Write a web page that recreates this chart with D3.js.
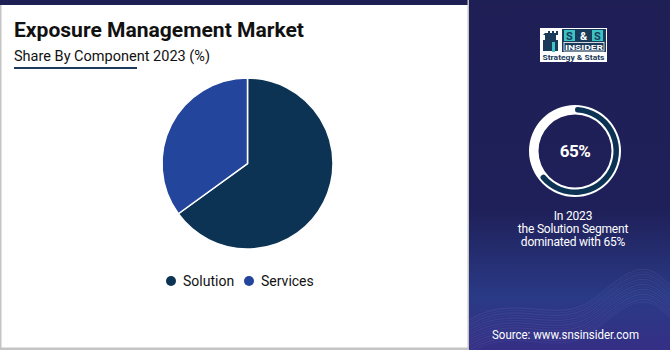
<!DOCTYPE html>
<html>
<head>
<meta charset="utf-8">
<script src="https://cdn.jsdelivr.net/npm/d3@7"></script>
<style>
html,body{margin:0;padding:0;background:#fff;}
svg{display:block;font-family:Roboto,"Noto Sans",sans-serif;}
</style>
</head>
<body>
<svg id="chart" width="670" height="350"></svg>
<script>
const categories = ["Solution", "Services"];
const shares = [65, 35];
const colors = ["#0c3353", "#23459b"];
const title = "Exposure Management Market";
const subtitle = "Share By Component 2023 (%)";
const highlightValue = 65;
const highlightLines = ["In 2023", "the Solution Segment", "dominated with 65%"];
const sourceText = "Source: www.snsinsider.com";

const svg = d3.select("#chart");
const W = 670, H = 350;

// background / frame
svg.append("rect").attr("x",0).attr("y",0).attr("width",W).attr("height",H).attr("fill","#fff");
svg.append("rect").attr("x",0).attr("y",0).attr("width",1.5).attr("height",H).attr("fill","#c4c4c4");
svg.append("rect").attr("x",0).attr("y",347.5).attr("width",W).attr("height",2.5).attr("fill","#c4c4c4");
svg.append("rect").attr("x",0).attr("y",0).attr("width",W).attr("height",5).attr("fill","#1e1f55");

// right panel
const defs = svg.append("defs");
const g1 = defs.append("linearGradient").attr("id","pg").attr("x1",0).attr("y1",0).attr("x2",0).attr("y2",1);
g1.append("stop").attr("offset","0").attr("stop-color","#1f1f56");
g1.append("stop").attr("offset","0.6").attr("stop-color","#1f2059");
g1.append("stop").attr("offset","0.85").attr("stop-color","#2a3a86");
g1.append("stop").attr("offset","1").attr("stop-color","#352f85");
const px = 469;
svg.append("rect").attr("x",px-1.5).attr("y",0).attr("width",1.5).attr("height",H).attr("fill","#c4c4c4");
svg.append("rect").attr("x",px).attr("y",0).attr("width",W-px).attr("height",H).attr("fill","url(#pg)");
svg.append("rect").attr("x",px).attr("y",0).attr("width",W-px).attr("height",5).attr("fill","#1e1f55");

// waves
const waveG = svg.append("g").attr("fill","none");
for (let i = 0; i < 14; i++) {
  const y0 = 300 + i*2.5;
  waveG.append("path")
    .attr("d", `M${px},${y0+20} C${px+50},${y0-10} ${px+90},${y0+30} ${px+130},${y0-5} S${px+180},${y0-35} ${W},${y0-15}`)
    .attr("stroke", i%2 ? "#6a7bd0" : "#a78bd8")
    .attr("stroke-opacity", 0.18)
    .attr("stroke-width", 0.8);
}

// logo
const logo = svg.append("g");
logo.append("rect").attr("x",540).attr("y",28).attr("width",67).attr("height",34).attr("fill","#fff");
logo.append("rect").attr("x",562).attr("y",29).attr("width",44).attr("height",23).attr("fill","#1a3a5a");
["S","&","S"].forEach((c,i)=>{
  const bx = 564 + i*14;
  if (c !== "&") logo.append("rect").attr("x",bx).attr("y",30).attr("width",11).attr("height",11).attr("fill","#3cc3c3");
  logo.append("text").attr("x",bx+5.5).attr("y",39.5).attr("text-anchor","middle")
    .attr("font-size",11).attr("font-weight",700).attr("fill", c==="&"?"#fff":"#1a3a5a").text(c);
});
logo.append("rect").attr("x",564).attr("y",42.5).attr("width",40).attr("height",8.5).attr("fill","none").attr("stroke","#fff").attr("stroke-width",0.8);
logo.append("text").attr("x",584).attr("y",50).attr("text-anchor","middle").attr("font-size",8).attr("font-weight",700)
  .attr("fill","#fff").attr("textLength",38).attr("lengthAdjust","spacingAndGlyphs").text("INSIDER");
// tower
logo.append("path").attr("d","M545,33 h3 v-2 h2 v2 h2 v-2 h2 v2 h2 v-2 h2 v4 h-2 v5 h2 v11 h-15 v-11 h2 v-5 h-2z").attr("fill","#1a3a5a");
logo.append("rect").attr("x",552).attr("y",42).attr("width",3).attr("height",10).attr("fill","#3cc3c3");
logo.append("text").attr("x",573.5).attr("y",60).attr("text-anchor","middle").attr("font-size",7.5).attr("font-weight",700)
  .attr("fill","#1a3a5a").attr("textLength",62).attr("lengthAdjust","spacingAndGlyphs").text("Strategy & Stats");

// titles
svg.append("text").attr("x",14).attr("y",37).attr("font-size",20.5).attr("font-weight",700).attr("fill","#111")
  .attr("textLength",290).attr("lengthAdjust","spacingAndGlyphs").text(title);
svg.append("text").attr("x",14).attr("y",61).attr("font-size",15).attr("fill","#111")
  .attr("textLength",196).attr("lengthAdjust","spacingAndGlyphs").text(subtitle);
svg.append("rect").attr("x",14).attr("y",67).attr("width",123).attr("height",2).attr("fill","#1b3a5c");

// pie
const pieData = categories.map((c,i)=>({cat:c, value:shares[i], color:colors[i]}));
const pie = d3.pie().value(d=>d.value).sort(null);
const arc = d3.arc().innerRadius(0).outerRadius(85.5);
svg.append("g").attr("transform","translate(247.5,163.5)")
  .selectAll("path").data(pie(pieData)).join("path")
  .attr("d", arc).attr("fill", d=>d.data.color)
  .attr("stroke","#fff").attr("stroke-width",1.5).attr("stroke-linejoin","miter");

// legend
const legendX = [171, 249];
const leg = svg.append("g").selectAll("g").data(pieData).join("g")
  .attr("transform",(d,i)=>`translate(${legendX[i]},281)`);
leg.append("circle").attr("r",5).attr("fill",d=>d.color);
leg.append("text").attr("x",12).attr("y",5).attr("font-size",14).attr("fill","#111").text(d=>d.cat);

// donut highlight
const cx = 575, cy = 151;
const dg = svg.append("g").attr("transform",`translate(${cx},${cy})`);
dg.append("path").attr("d", d3.arc().innerRadius(36.5).outerRadius(46).startAngle(0).endAngle(2*Math.PI)()).attr("fill","#fff");
const frac = d3.scaleLinear().domain([0,100]).range([0, 2*Math.PI]);
dg.append("path").attr("d", d3.arc().innerRadius(38.5).outerRadius(44).cornerRadius(2.7).startAngle(0).endAngle(frac(highlightValue))())
  .attr("fill","#0c3353");
dg.append("text").attr("x",0).attr("y",6).attr("text-anchor","middle").attr("font-size",17).attr("font-weight",700)
  .attr("fill","#fff").attr("letter-spacing",-0.5).text(highlightValue + "%");

svg.append("g").selectAll("text").data(highlightLines).join("text")
  .attr("x",573).attr("y",(d,i)=>220 + i*13).attr("text-anchor","middle")
  .attr("font-size",12).attr("fill","#fff").attr("letter-spacing",-0.2).text(d=>d);

svg.append("text").attr("x",492).attr("y",339).attr("font-size",12.5).attr("fill","#fff")
  .attr("textLength",147).attr("lengthAdjust","spacingAndGlyphs").text(sourceText);
</script>
</body>
</html>
